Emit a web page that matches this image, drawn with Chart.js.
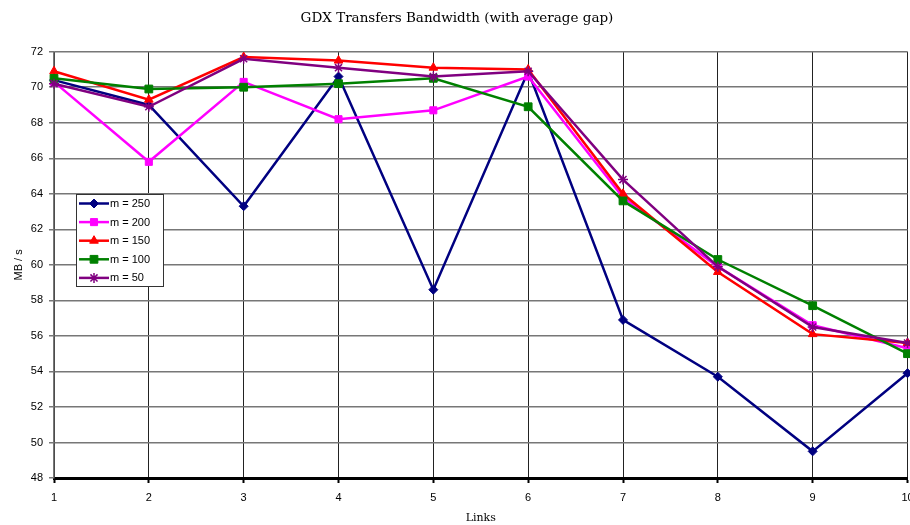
<!DOCTYPE html>
<html>
<head>
<meta charset="utf-8">
<script src="https://cdn.jsdelivr.net/npm/chart.js@4"></script>
<style>
  html, body { margin: 0; padding: 0; background: #fff; overflow: hidden; }
  #wrap { width: 910px; height: 525px; overflow: hidden; }
</style>
</head>
<body>
<div id="wrap"><canvas id="chart" width="914" height="525"></canvas></div>
<script>
// values
const links = [1, 2, 3, 4, 5, 6, 7, 8, 9, 10]
const m250 = [70.4, 69.0, 63.3, 70.6, 58.6, 70.9, 56.9, 53.7, 49.5, 53.9]
const m200 = [70.3, 65.8, 70.3, 68.2, 68.7, 70.6, 63.8, 59.9, 56.6, 55.3]
const m150 = [70.9, 69.3, 71.7, 71.5, 71.1, 71.0, 64.0, 59.6, 56.1, 55.6]
const m100 = [70.5, 69.9, 70.0, 70.2, 70.5, 68.9, 63.6, 60.3, 57.7, 55.0]
const m50 = [70.2, 68.9, 71.6, 71.1, 70.6, 70.9, 64.8, 59.9, 56.5, 55.6]
const seriesLabels = ['m = 250', 'm = 200', 'm = 150', 'm = 100', 'm = 50']
const yTicks = [48, 50, 52, 54, 56, 58, 60, 62, 64, 66, 68, 70, 72]

const styles = [
  { color: '#000080', point: 'rectRot', radius: 4.5 },
  { color: '#FF00FF', point: 'rect', radius: 5 },
  { color: '#FF0000', point: 'triangle', radius: 5 },
  { color: '#008000', point: 'rect', radius: 5.5 },
  { color: '#800080', point: 'star', radius: 5 }
]

function makeSet (label, values, i) {
  const s = styles[i]
  return {
    label,
    data: values.map((v, k) => ({ x: links[k], y: v })),
    borderColor: s.color,
    backgroundColor: s.color,
    borderWidth: 2.5,
    pointStyle: s.point,
    pointRadius: s.radius,
    pointBorderWidth: s.point === 'star' ? 1.5 : 1,
    pointBackgroundColor: s.color,
    pointBorderColor: s.color,
    tension: 0,
    clip: false,
    order: 5 - i
  }
}

// legend box drawn inside the plot, like the original
const boxLegend = {
  id: 'boxLegend',
  afterDatasetsDraw (chart) {
    const ctx = chart.ctx
    const x0 = 76
    const y0 = 194
    const w = 87
    const h = 92
    ctx.save()
    ctx.fillStyle = '#fff'
    ctx.fillRect(x0, y0, w, h)
    ctx.strokeStyle = '#333'
    ctx.lineWidth = 1
    ctx.strokeRect(x0 + 0.5, y0 + 0.5, w, h)
    chart.data.datasets.forEach((ds, i) => {
      const s = styles[i]
      const y = y0 + 9.5 + i * 18.6
      ctx.strokeStyle = s.color
      ctx.lineWidth = 2.5
      ctx.beginPath()
      ctx.moveTo(79, y)
      ctx.lineTo(109, y)
      ctx.stroke()
      ctx.fillStyle = s.color
      ctx.lineWidth = ds.pointBorderWidth
      Chart.helpers.drawPoint(ctx, { pointStyle: s.point, radius: s.radius, rotation: 0, borderWidth: ds.pointBorderWidth }, 94, y)
      ctx.fillStyle = '#000'
      ctx.font = '11px "Liberation Sans", Arial, sans-serif'
      ctx.textBaseline = 'middle'
      ctx.textAlign = 'left'
      ctx.fillText(ds.label, 110, y + 0.5)
    })
    ctx.restore()
  }
}

const ctx = document.getElementById('chart').getContext('2d')
new Chart(ctx, {
  type: 'line',
  data: {
    datasets: [
      makeSet(seriesLabels[0], m250, 0),
      makeSet(seriesLabels[1], m200, 1),
      makeSet(seriesLabels[2], m150, 2),
      makeSet(seriesLabels[3], m100, 3),
      makeSet(seriesLabels[4], m50, 4)
    ]
  },
  options: {
    responsive: false,
    animation: false,
    layout: { padding: { left: 0, right: 0, top: 0, bottom: 0 } },
    plugins: {
      legend: { display: false },
      tooltip: { enabled: false },
      title: {
        display: true,
        text: 'GDX Transfers Bandwidth (with average gap)',
        color: '#000',
        font: { family: '"DejaVu Serif", serif', size: 13.5, weight: 'normal' },
        padding: { top: 10, bottom: 25.5 }
      }
    },
    scales: {
      x: {
        type: 'linear',
        min: 1,
        max: 10,
        afterFit (scale) {
          scale.height = 47
          scale.paddingRight = 0
          scale.paddingLeft = 0
        },
        afterBuildTicks (scale) { scale.ticks = links.map(v => ({ value: v })) },
        ticks: {
          color: '#000',
          padding: 8,
          font: { family: '"Liberation Sans", Arial, sans-serif', size: 11 }
        },
        grid: { color: '#222', lineWidth: 1, tickLength: 5, tickColor: '#000', tickWidth: 2 },
        border: { color: '#000', width: 3 },
        title: {
          display: true,
          text: 'Links',
          color: '#000',
          font: { family: '"DejaVu Serif", serif', size: 11 },
          padding: { top: 0, bottom: 0 }
        }
      },
      y: {
        min: 48,
        max: 72,
        afterFit (scale) { scale.width = 54 },
        afterBuildTicks (scale) { scale.ticks = yTicks.map(v => ({ value: v })) },
        ticks: {
          color: '#000',
          padding: 6,
          font: { family: '"Liberation Sans", Arial, sans-serif', size: 11 }
        },
        grid: { color: '#777', lineWidth: 1.5, tickLength: 5, tickColor: '#777' },
        border: { color: '#777', width: 1.5 },
        title: {
          display: true,
          text: 'MB / s',
          color: '#000',
          font: { family: '"Liberation Sans", Arial, sans-serif', size: 11 },
          padding: { top: 12, bottom: 0 }
        }
      }
    }
  },
  plugins: [boxLegend]
})
</script>
</body>
</html>
